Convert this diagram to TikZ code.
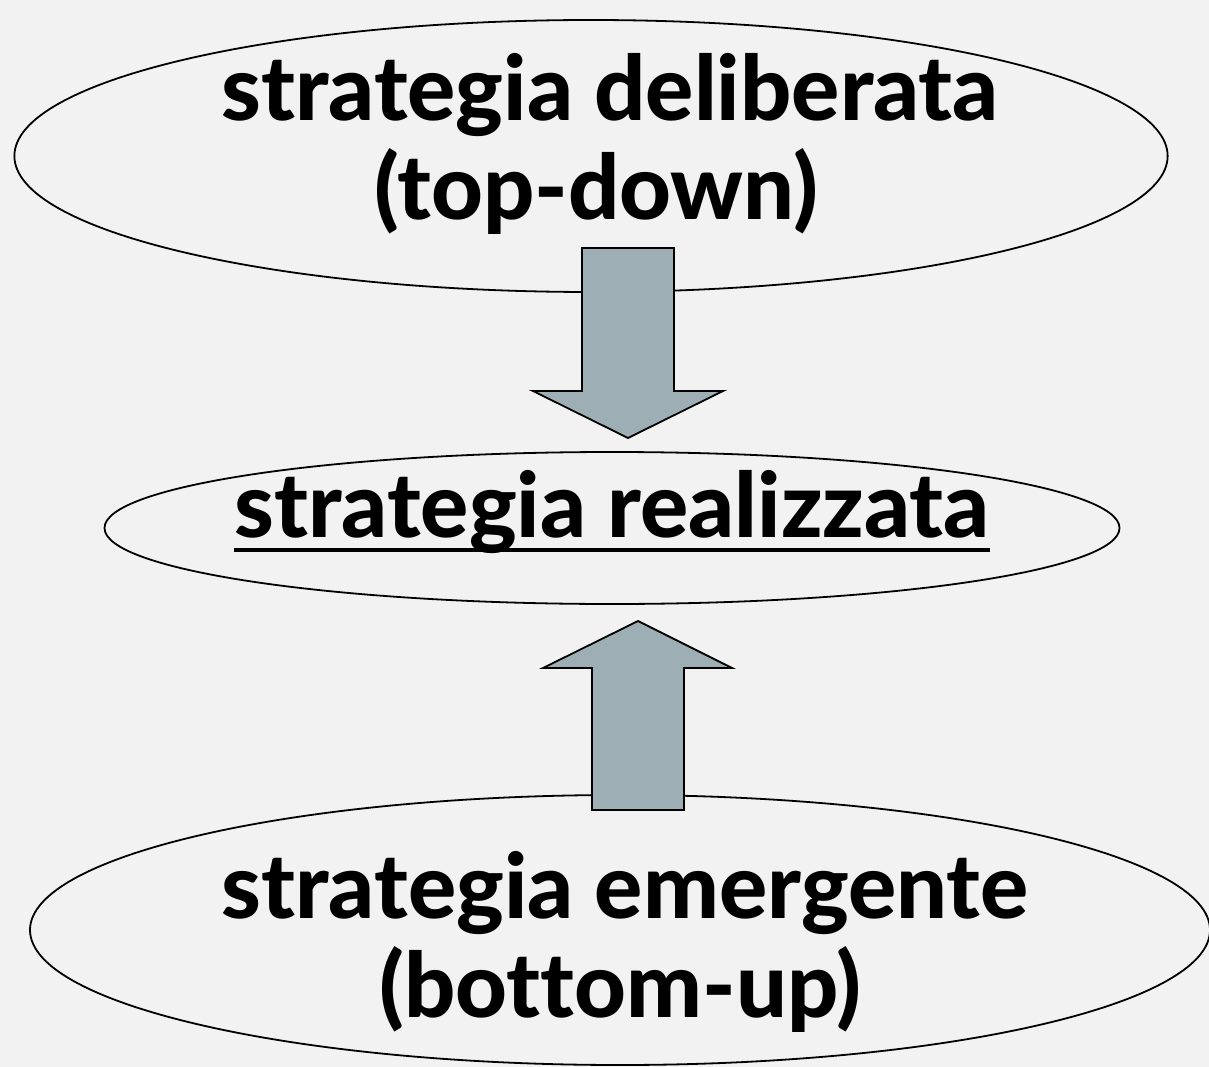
\documentclass[tikz,border=0pt]{standalone}
\usepackage{fontspec}
\setmainfont{Lato}[Ligatures=NoCommon,BoldFont={Lato Heavy}]
\usetikzlibrary{shapes.geometric}
\definecolor{bgcol}{HTML}{F2F2F2}
\definecolor{arrowcol}{HTML}{9DAFB4}
% underline that runs through the descenders
\newcommand\stratline[1]{\setbox0\hbox{#1}\rlap{\rule[-15pt]{\wd0}{4pt}}\box0}

\tikzset{
  stratbox/.style={draw=black,line width=1.8pt,ellipse,inner sep=0pt,align=center,
    font=\fontsize{90}{99}\selectfont\bfseries},
  blockarrow/.style={draw=black,line width=1.8pt,fill=arrowcol,line join=miter}
}

\begin{document}
\begin{tikzpicture}[x=1pt,y=-1pt]
\fill[bgcol] (0,0) rectangle (1209,1067);
\useasboundingbox (0,0) rectangle (1209,1067);

\node[stratbox,minimum width=1150pt,minimum height=272pt,
  text height=150pt,text depth=22pt] (delib) at (591,156)
  {\hspace*{38pt}strategia deliberata\\\hspace*{10pt}(top-down)};
\node[stratbox,minimum width=1015pt,minimum height=152pt,
  text height=44pt,text depth=26pt] (real) at (612,528)
  {\makebox[600pt]{\stratline{strategia realizzata}}};
\node[stratbox,minimum width=1180pt,minimum height=270pt,
  text height=174pt,text depth=0pt] (emerg) at (620,930)
  {\hspace*{10pt}strategia emergente\\(bottom-up)};

% down arrow from deliberata to realizzata
\draw[blockarrow] (582,248) -- (674,248) -- (674,391) -- (723,391) -- (628,438)
  -- (533,391) -- (582,391) -- cycle;
% up arrow from emergente to realizzata
\draw[blockarrow] (592,810) -- (684,810) -- (684,668) -- (732,668) -- (638,621)
  -- (543,668) -- (592,668) -- cycle;
\end{tikzpicture}
\end{document}
